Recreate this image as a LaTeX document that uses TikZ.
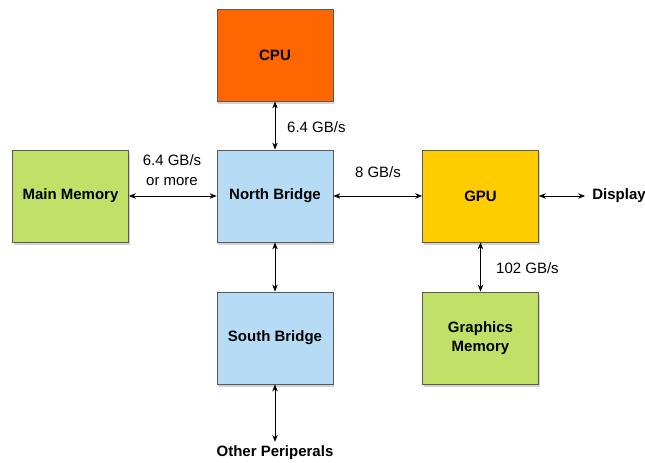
\documentclass[tikz,border=0pt]{standalone}
\usepackage{fontspec}
\setmainfont{Liberation Sans}
\usetikzlibrary{shadows,arrows.meta}
\definecolor{cpuorange}{RGB}{255,102,0}
\definecolor{bridgeblue}{RGB}{182,220,245}
\definecolor{memgreen}{RGB}{192,224,104}
\definecolor{gpugold}{RGB}{255,204,0}
\tikzset{blk/.style={draw=black!65,line width=0.8pt,minimum width=116pt,minimum height=92pt,inner sep=0pt,align=center,font=\fontsize{15}{19}\selectfont\bfseries,drop shadow={shadow xshift=1pt,shadow yshift=-2.5pt,opacity=0.35}},
lnk/.style={{Stealth[length=7pt,width=5.5pt]}-{Stealth[length=7pt,width=5.5pt]},line width=0.7pt},
lbl/.style={inner sep=0pt,align=center,font=\fontsize{15}{20}\selectfont},
ends/.style={inner sep=4pt,font=\fontsize{15}{19}\selectfont\bfseries}}
\begin{document}
\begin{tikzpicture}[x=1pt,y=-1pt]
\useasboundingbox (0,0) rectangle (645,463);
\node[blk,fill=cpuorange] (cpu) at (275,55) {CPU};
\node[blk,fill=bridgeblue] (nb) at (275,196) {North Bridge};
\node[blk,fill=memgreen] (mm) at (70.5,196) {Main Memory};
\node[blk,fill=gpugold] (gpu) at (480.5,196) {GPU};
\node[blk,fill=bridgeblue] (sb) at (275,338) {South Bridge};
\node[blk,fill=memgreen] (gm) at (480.5,338) {Graphics\\Memory};
\node[ends,inner sep=7pt] (disp) at (619,196) {Display};
\node[ends] (oth) at (275,453) {Other Periperals};
\draw[lnk] (cpu) -- (nb);
\draw[lnk] (mm) -- (nb);
\draw[lnk] (nb) -- (gpu);
\draw[lnk] (gpu) -- (disp);
\draw[lnk] (nb) -- (sb);
\draw[lnk] (gpu) -- (gm);
\draw[lnk] (sb) -- (oth);
\node[lbl,anchor=west] (l1) at (287,127) {6.4 GB/s};
\node[lbl] (l2) at (172,170) {6.4 GB/s\\or more};
\node[lbl] (l3) at (378,172) {8 GB/s};
\node[lbl,anchor=west] (l4) at (496,268) {102 GB/s};
\end{tikzpicture}
\end{document}
